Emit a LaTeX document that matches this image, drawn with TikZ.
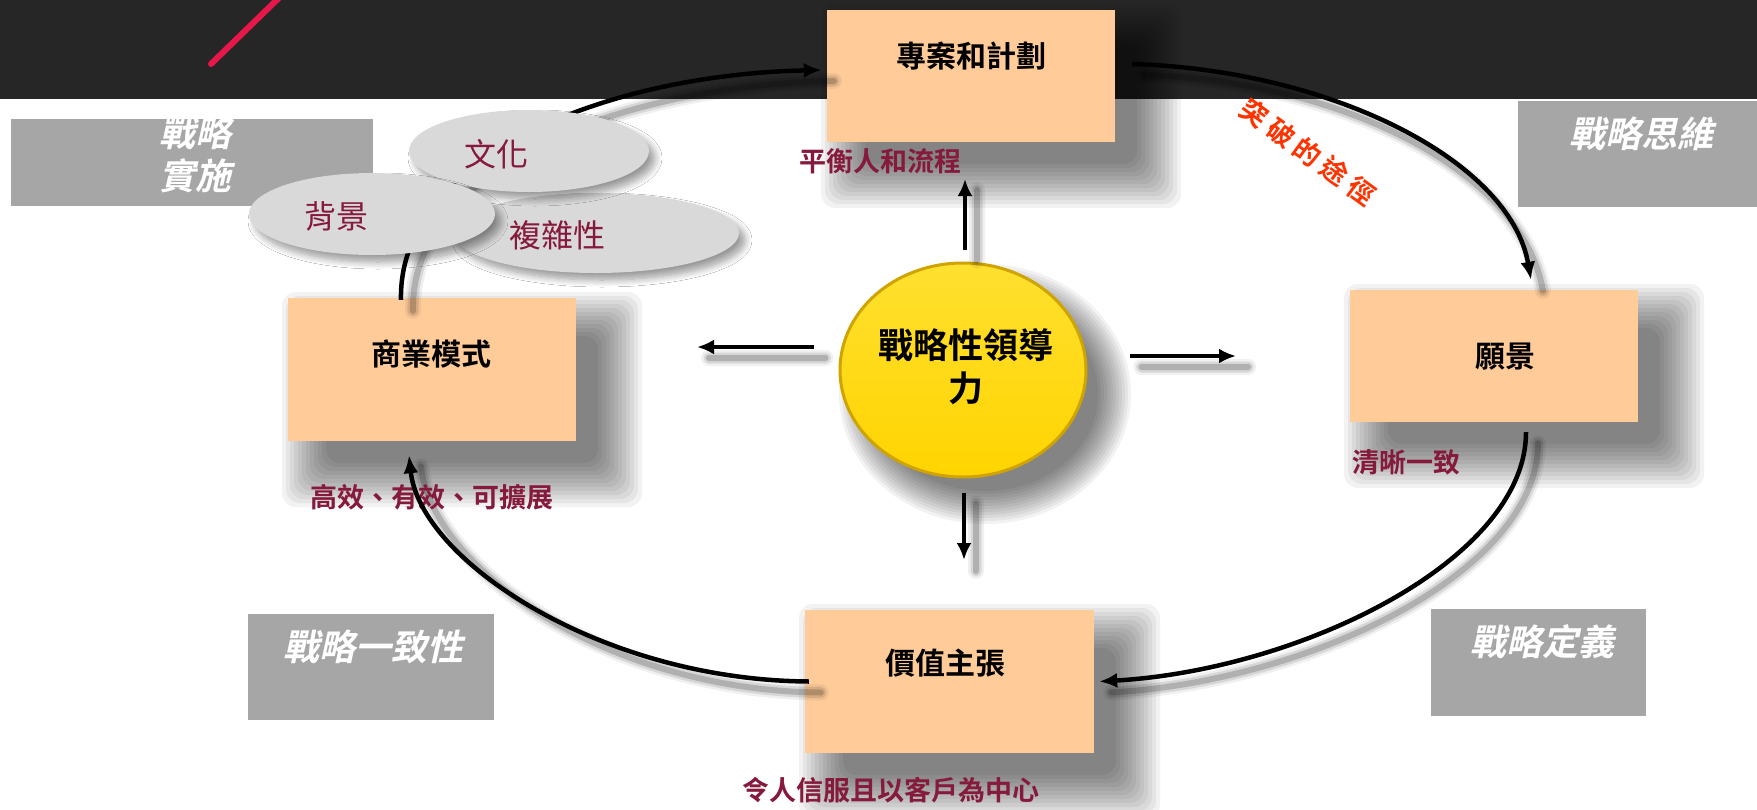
\documentclass[tikz,border=0pt]{standalone}
\usepackage{fontspec}
\newfontfamily\cjk{Noto Sans CJK TC}
\newfontfamily\cjkb{Noto Sans CJK TC Bold}
\newfontfamily\cjkbs{Noto Sans CJK TC Bold}[LetterSpace=22]
\newfontfamily\cjkbi{Noto Sans CJK TC Bold}[FakeSlant=0.22]
\usetikzlibrary{arrows.meta,shadows.blur,shapes.geometric}
\definecolor{band}{HTML}{262626}
\definecolor{peach}{HTML}{FFCB99}
\definecolor{wine}{HTML}{861A3C}
\definecolor{grayb}{HTML}{A6A6A6}
\definecolor{bubble}{HTML}{D9D9D9}
\definecolor{goldtop}{HTML}{FFE030}
\definecolor{goldbot}{HTML}{FFD400}
\definecolor{goldrim}{HTML}{CFA300}
\definecolor{redline}{HTML}{E8174A}
\definecolor{orangered}{HTML}{FF3300}
% soft shadow of a box: centre x, centre y, width, height (y grows downwards)
\newcommand\boxshadow[4]{%
  \foreach \k in {0,...,11}{%
    \pgfmathsetmacro\dd{-8+\k*4}%
    \fill[black,opacity=0.05,rounded corners=14pt]
      ({#1-#3/2+30-\dd},{#2-#4/2+30-\dd}) rectangle ({#1+#3/2+30+\dd},{#2+#4/2+30+\dd});
  }}
\begin{document}
\begin{tikzpicture}[x=1pt,y=-1pt,
 stepbox/.style={rectangle,fill=peach,inner sep=0pt,minimum width=288pt},
 boxtitle/.style={font=\cjkb\fontsize{30}{34}\selectfont,inner sep=0pt},
 sublabel/.style={font=\cjkb\fontsize{27}{30}\selectfont,text=wine,inner sep=0pt},
 graybox/.style={rectangle,fill=grayb,inner sep=0pt,anchor=north west},
 graytext/.style={font=\cjkbi\fontsize{36}{40}\selectfont,text=white,inner sep=0pt},
 bubblenode/.style={ellipse,fill=bubble,inner sep=0pt,
   blur shadow={shadow xshift=6pt,shadow yshift=-7pt,shadow blur radius=7pt,shadow opacity=40,shadow blur steps=10}},
 bubbletext/.style={font=\cjk\fontsize{32}{36}\selectfont,text=wine,inner sep=0pt},
 cyclearrow/.style={line width=4.5pt,-{Latex[length=18pt,width=15pt]}},
 ray/.style={line width=4pt,-{Latex[length=17pt,width=15pt]}},
]
\useasboundingbox (0,0) rectangle (1757,809);
\fill[white] (0,0) rectangle (1757,809);
\fill[band] (0,0) rectangle (1757,99);
\draw[redline,line width=6pt,line cap=round] (285,-8) -- (211,64);

% gray boxes
\node[graybox,minimum width=362pt,minimum height=87pt] (g1) at (11,119) {};
\node[graybox,minimum width=239pt,minimum height=106pt] (g2) at (1518,101) {};
\node[graybox,minimum width=246pt,minimum height=106pt] (g3) at (248,614) {};
\node[graybox,minimum width=215pt,minimum height=107pt] (g4) at (1431,609) {};
\node[graytext] (g1a) at (195,133) {戰略};
\node[graytext] (g1b) at (195,176) {實施};
\node[graytext] (g2t) at (1641,134) {戰略思維};
\node[graytext] (g3t) at (373,647) {戰略一致性};
\node[graytext] (g4t) at (1542,642) {戰略定義};

% soft shadows
\boxshadow{971}{76}{288}{132}
\boxshadow{432}{369.5}{288}{143}
\boxshadow{1494}{356}{288}{132}
\boxshadow{949.5}{681.5}{289}{143}
\foreach \k in {0,...,11}{%
  \pgfmathsetmacro\dd{-10+\k*3}%
  \fill[black,opacity=0.05] (985,394) ellipse ({123+\dd} and {107+\dd});
}

% peach boxes
\node[stepbox,minimum height=132pt] (proj) at (971,76) {};
\node[stepbox,minimum height=143pt] (biz) at (432,369.5) {};
\node[stepbox,minimum height=132pt] (vis) at (1494,356) {};
\node[stepbox,minimum height=143pt,minimum width=289pt] (val) at (949.5,681.5) {};

% centre
\node[ellipse,minimum width=246pt,minimum height=214pt,top color=goldtop,bottom color=goldbot,
  draw=goldrim,line width=3pt] (lead) at (963,370) {};

% free ends of the rays
\coordinate (upend) at (965,179);
\coordinate (downend) at (964,560);
\coordinate (leftend) at (697,347);
\coordinate (rightend) at (1236,356);

% shadows of connectors
\begin{scope}[transform canvas={xshift=12pt,yshift=-11pt}]
\foreach \w/\o in {16/0.06,11/0.1,6/0.18}{
\draw[line width=\w pt,opacity=\o,line cap=round]
  ([xshift=-31pt,yshift=-2pt]biz.north) .. controls (398,160) and (600,75) .. ([xshift=-5pt,yshift=6pt]proj.west)
  ([xshift=17pt,yshift=12pt]proj.east) .. controls (1330,70) and (1510,160) .. ([xshift=37pt,yshift=10pt]vis.north)
  ([xshift=32pt,yshift=-10pt]vis.south) .. controls (1526,560) and (1300,670) .. ([xshift=5pt]val.east)
  ([xshift=4pt]val.west) .. controls (600,680) and (420,560) .. ([xshift=-23pt,yshift=-14pt]biz.south)
  ([xshift=2pt,yshift=12pt]lead.north) -- (upend)
  ([xshift=1pt,yshift=-14pt]lead.south) -- (downend)
  ([xshift=-25pt,yshift=23pt]lead.west) -- (leftend)
  ([xshift=42pt,yshift=14pt]lead.east) -- (rightend);
}
\end{scope}

% texts in boxes and labels
\node[boxtitle] (projt) at (971,56) {專案和計劃};
\node[boxtitle] (bizt) at (431,354) {商業模式};
\node[boxtitle] (vist) at (1505,357) {願景};
\node[boxtitle] (valt) at (945,663) {價值主張};
\node[sublabel] (projl) at (880,161) {平衡人和流程};
\node[sublabel] (bizl) at (432,497) {高效、有效、可擴展};
\node[sublabel] (visl) at (1406,462) {清晰一致};
\node[sublabel] (vall) at (891,790) {令人信服且以客戶為中心};
\node[font=\cjkb\fontsize{35}{43}\selectfont,align=center,inner sep=0pt] (leadt) at (966,367) {戰略性領導\\力};

% cycle connectors
\draw[cyclearrow] ([xshift=-31pt,yshift=-2pt]biz.north) .. controls (398,160) and (600,75) .. ([xshift=-5pt,yshift=6pt]proj.west);
\draw[cyclearrow] ([xshift=17pt,yshift=12pt]proj.east) .. controls (1330,70) and (1510,160) .. ([xshift=37pt,yshift=10pt]vis.north);
\draw[cyclearrow] ([xshift=32pt,yshift=-10pt]vis.south) .. controls (1526,560) and (1300,670) .. ([xshift=5pt]val.east);
\draw[cyclearrow] ([xshift=4pt]val.west) .. controls (600,680) and (420,560) .. ([xshift=-23pt,yshift=-14pt]biz.south);

% rays
\draw[ray] ([xshift=2pt,yshift=12pt]lead.north) -- (upend);
\draw[ray] ([xshift=1pt,yshift=-14pt]lead.south) -- (downend);
\draw[ray] ([xshift=-25pt,yshift=23pt]lead.west) -- (leftend);
\draw[ray] ([xshift=42pt,yshift=14pt]lead.east) -- (rightend);

% bubbles
\node[bubblenode,minimum width=286pt,minimum height=80pt] (cx) at (596,233) {};
\node[bubblenode,minimum width=240pt,minimum height=82pt] (cul) at (529,151) {};
\node[bubblenode,minimum width=246pt,minimum height=82pt] (bg) at (372,214) {};
\node[bubbletext] (cxt) at (557,235) {複雜性};
\node[bubbletext] (cult) at (496,154) {文化};
\node[bubbletext] (bgt) at (336,216) {背景};

% breakthrough label
\node[font=\cjkbs\fontsize{27}{30}\selectfont,text=orangered,rotate=-36,inner sep=0pt] (brk) at (1308,152) {突破的途徑};
\end{tikzpicture}
\end{document}
